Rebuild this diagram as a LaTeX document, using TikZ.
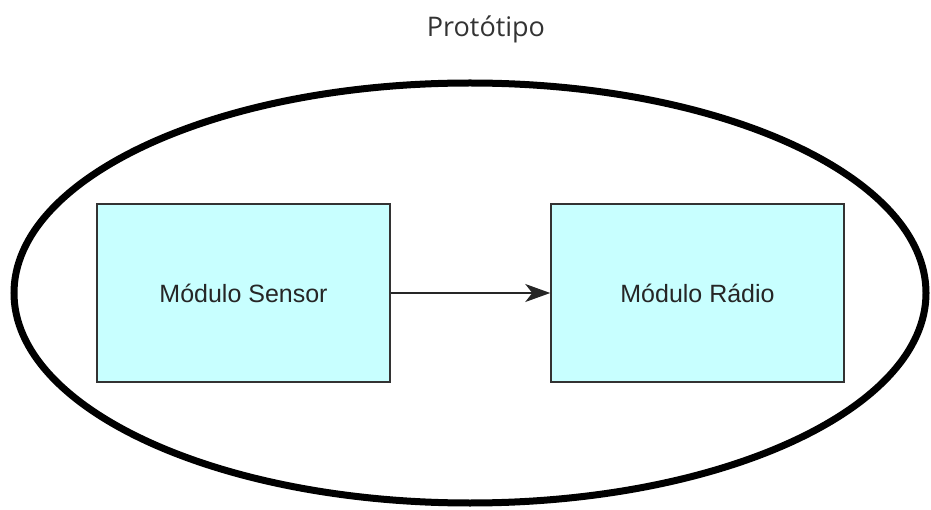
\documentclass[tikz,border=0pt]{standalone}
\usepackage{fontspec}
\setmainfont{Liberation Sans}
\newfontfamily\titlefont{Open Sans}
\usetikzlibrary{arrows.meta}
\begin{document}
\begin{tikzpicture}[x=1pt,y=-1pt,
  modbox/.style={draw=black!80,line width=1.5pt,fill={rgb,255:red,200;green,255;blue,255},minimum width=293pt,minimum height=178pt,inner sep=0pt,font=\fontsize{25}{28}\selectfont,text=black!85},
  conn/.style={line width=1.5pt,draw=black!85,-{Stealth[length=25pt,width=18pt,inset=7pt]}}]
\useasboundingbox (0,0) rectangle (931,510);
\node[font=\titlefont\fontsize{27}{30}\selectfont,text=black!80] (title) at (486,29) {Protótipo};
\draw[line width=7pt] (470,293) ellipse [x radius=456, y radius=210];
\node[modbox] (sensor) at (243.5,293) {Módulo Sensor};
\node[modbox] (radio) at (697.5,293) {Módulo Rádio};
\draw[conn] (sensor) -- (radio);
\end{tikzpicture}
\end{document}
